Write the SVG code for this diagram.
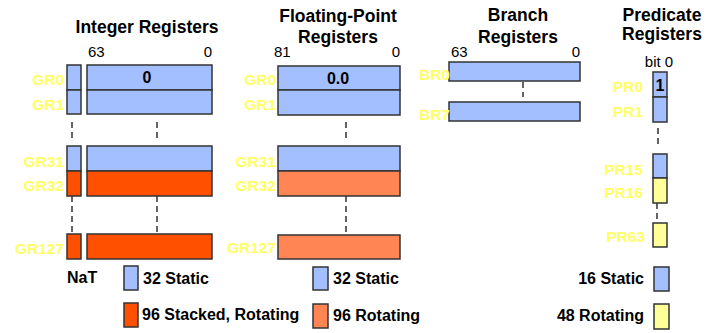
<svg xmlns="http://www.w3.org/2000/svg" width="721" height="333" viewBox="0 0 721 333">
<style>
text{font-family:"Liberation Sans",Arial,sans-serif;}
.t{font-size:17.5px;font-weight:bold;fill:#000;text-anchor:middle;}
.n{font-size:15px;fill:#000;}
.l{font-size:15.5px;font-weight:bold;fill:#FFFF66;text-anchor:end;}
.g{font-size:16px;font-weight:bold;fill:#000;}
.b{fill:#A3BFFF;stroke:#333;stroke-width:1.5;}
.o{fill:#FF5000;stroke:#333;stroke-width:1.5;}
.f{fill:#FF8654;stroke:#333;stroke-width:1.5;}
.y{fill:#FFFF99;stroke:#333;stroke-width:1.5;}
.d{stroke:#333;stroke-width:1.5;stroke-dasharray:6,4;fill:none;}
</style>
<rect width="721" height="333" fill="#fff"/>
<g id="integer">
<text class="t" x="147" y="33">Integer Registers</text>
<text class="n" x="88" y="57">63</text>
<text class="n" x="212" y="57" text-anchor="end">0</text>
<rect class="b" x="67" y="65" width="14" height="25"/>
<rect class="b" x="67" y="90" width="14" height="24"/>
<rect class="b" x="87" y="65" width="125" height="25"/>
<rect class="b" x="87" y="90" width="125" height="24"/>
<text class="g" x="147" y="83" text-anchor="middle">0</text>
<rect class="b" x="67" y="146" width="14" height="25"/>
<rect class="o" x="67" y="171" width="14" height="25"/>
<rect class="o" x="67" y="234" width="14" height="25"/>
<rect class="b" x="87" y="146" width="125" height="25"/>
<rect class="o" x="87" y="171" width="125" height="25"/>
<rect class="o" x="87" y="234" width="125" height="25"/>
<text class="l" x="64" y="85">GR0</text>
<text class="l" x="64" y="110">GR1</text>
<text class="l" x="64" y="167">GR31</text>
<text class="l" x="64" y="191">GR32</text>
<text class="l" x="64" y="254">GR127</text>
<text class="g" x="67" y="283">NaT</text>
<rect class="b" x="124" y="266" width="14" height="24"/>
<text class="g" x="143" y="284">32 Static</text>
<rect class="o" x="124" y="303" width="14" height="24"/>
<text class="g" x="142" y="320">96 Stacked, Rotating</text>
</g>
<g id="floating">
<text class="t" x="338" y="22">Floating-Point</text>
<text class="t" x="338" y="43">Registers</text>
<text class="n" x="274" y="57">81</text>
<text class="n" x="400" y="57" text-anchor="end">0</text>
<rect class="b" x="278" y="66" width="122" height="24"/>
<rect class="b" x="278" y="90" width="122" height="25"/>
<text class="g" x="338" y="84" text-anchor="middle">0.0</text>
<rect class="b" x="278" y="146" width="122" height="25"/>
<rect class="f" x="278" y="171" width="122" height="25"/>
<rect class="f" x="278" y="235" width="122" height="24"/>
<text class="l" x="276" y="85">GR0</text>
<text class="l" x="276" y="110">GR1</text>
<text class="l" x="276" y="167">GR31</text>
<text class="l" x="276" y="191">GR32</text>
<text class="l" x="276" y="253">GR127</text>
<rect class="b" x="313" y="267" width="15" height="23"/>
<text class="g" x="333" y="284">32 Static</text>
<rect class="f" x="313" y="304" width="15" height="24"/>
<text class="g" x="333" y="321">96 Rotating</text>
</g>
<g id="branch">
<text class="t" x="518" y="21">Branch</text>
<text class="t" x="518" y="43">Registers</text>
<text class="n" x="451" y="57">63</text>
<text class="n" x="580" y="57" text-anchor="end">0</text>
<rect class="b" x="449" y="62" width="131" height="19"/>
<rect class="b" x="449" y="102" width="131" height="19"/>
<text class="l" x="450" y="80">BR0</text>
<text class="l" x="450" y="120">BR7</text>
</g>
<g id="predicate">
<text class="t" x="662" y="21">Predicate</text>
<text class="t" x="662" y="40">Registers</text>
<text class="n" x="659" y="67" text-anchor="middle">bit 0</text>
<rect class="b" x="653" y="72" width="14" height="25"/>
<rect class="b" x="653" y="97" width="14" height="25"/>
<text class="g" x="660" y="91" text-anchor="middle">1</text>
<rect class="b" x="653" y="154" width="14" height="24"/>
<rect class="y" x="653" y="178" width="14" height="25"/>
<rect class="y" x="653" y="223" width="14" height="24"/>
<text class="l" x="643" y="92">PR0</text>
<text class="l" x="643" y="117">PR1</text>
<text class="l" x="643" y="175">PR15</text>
<text class="l" x="643" y="198">PR16</text>
<text class="l" x="645" y="242">PR63</text>
<text class="g" x="644" y="284" text-anchor="end">16 Static</text>
<rect class="b" x="654" y="267" width="15" height="24"/>
<text class="g" x="644" y="321" text-anchor="end">48 Rotating</text>
<rect class="y" x="654" y="304" width="15" height="25"/>
</g>
<g id="connectors">
<line class="d" x1="72" y1="122" x2="72" y2="140"/>
<line class="d" x1="157" y1="122" x2="157" y2="140"/>
<line class="d" x1="72" y1="196" x2="72" y2="234"/>
<line class="d" x1="157" y1="196" x2="157" y2="234"/>
<line class="d" x1="346" y1="122" x2="346" y2="140"/>
<line class="d" x1="346" y1="196" x2="346" y2="235"/>
<line class="d" x1="523" y1="82" x2="523" y2="97"/>
<line class="d" x1="658" y1="128" x2="658" y2="148"/>
<line class="d" x1="657" y1="203" x2="657" y2="223"/>
</g>
</svg>
